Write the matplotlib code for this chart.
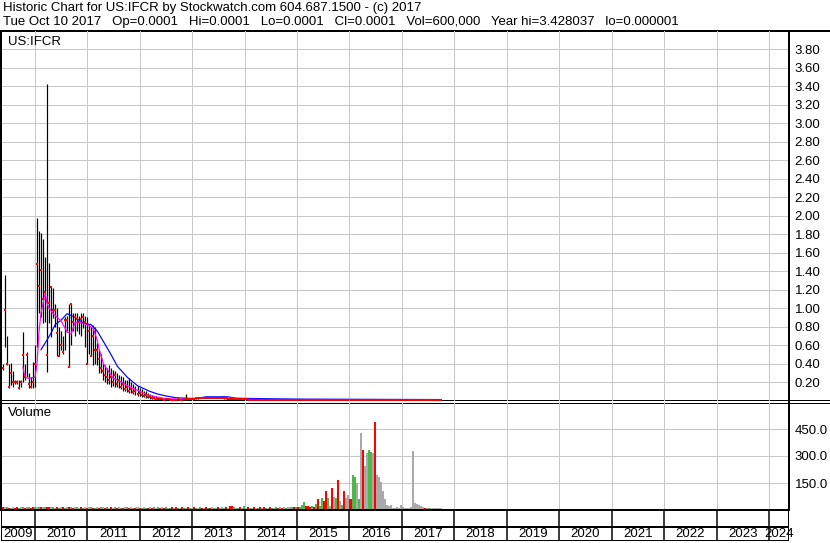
import matplotlib
matplotlib.use('Agg')
import matplotlib.pyplot as plt
import matplotlib.dates as mdates
from matplotlib.lines import Line2D
import pandas as pd

plt.rcParams['font.family'] = ['Liberation Sans', 'DejaVu Sans']
plt.rcParams['font.size'] = 9.5

# -----------------------------
# Data (one bar every two weeks)
# -----------------------------
first_bar = '2009-05-22'

high_head = [
    0.40, 1.36, 0.70, 0.40, 0.41, 0.32, 0.22, 0.22, 0.22, 0.22,
    0.74, 0.40, 0.52, 0.30, 0.25, 0.42, 0.60, 1.98, 1.84, 1.81,
    1.75, 1.55, 3.43, 1.49, 1.23, 1.22, 1.05, 1.00, 0.80, 0.75,
    0.70, 0.90, 0.92, 1.05, 1.04, 0.95, 0.95, 0.95, 0.92, 0.95,
    0.95, 0.92, 0.90, 0.82, 0.80, 0.82, 0.80, 0.62, 0.55, 0.50,
    0.40, 0.38, 0.35, 0.38, 0.35, 0.33, 0.32, 0.30, 0.28, 0.26,
    0.25, 0.22, 0.22, 0.24, 0.20, 0.18, 0.16, 0.16, 0.14, 0.12,
    0.10, 0.10, 0.08, 0.07, 0.06, 0.05, 0.05, 0.04, 0.03, 0.03,
    0.02, 0.02, 0.02, 0.015, 0.015, 0.015, 0.015, 0.02, 0.015, 0.015,
    0.02, 0.07, 0.025, 0.02, 0.025, 0.025, 0.03, 0.03, 0.035, 0.035,
    0.03, 0.035, 0.04, 0.035, 0.035, 0.03, 0.035, 0.035, 0.03, 0.05,
    0.03, 0.03, 0.025,
]
low_head = [
    0.33, 0.58, 0.38, 0.13, 0.17, 0.15, 0.18, 0.18, 0.12, 0.15,
    0.20, 0.22, 0.25, 0.14, 0.13, 0.14, 0.15, 0.58, 0.95, 0.90,
    0.84, 0.85, 0.31, 0.84, 0.69, 0.89, 0.80, 0.48, 0.48, 0.55,
    0.50, 0.55, 0.75, 0.36, 0.60, 0.75, 0.70, 0.75, 0.72, 0.70,
    0.78, 0.58, 0.40, 0.50, 0.48, 0.38, 0.40, 0.38, 0.30, 0.30,
    0.22, 0.20, 0.18, 0.18, 0.15, 0.16, 0.15, 0.15, 0.14, 0.12,
    0.10, 0.10, 0.09, 0.08, 0.08, 0.07, 0.06, 0.05, 0.05, 0.04,
    0.04, 0.03, 0.03, 0.02, 0.02, 0.02, 0.01, 0.01, 0.01, 0.01,
    0.005, 0.008, 0.008, 0.006, 0.006, 0.006, 0.006, 0.008, 0.006, 0.006,
    0.008, 0.015, 0.015, 0.012, 0.015, 0.015, 0.018, 0.02, 0.025, 0.025,
    0.022, 0.025, 0.028, 0.025, 0.025, 0.022, 0.025, 0.025, 0.022, 0.025,
    0.02, 0.02, 0.015,
]
close_head = [
    0.35, 0.98, 0.40, 0.15, 0.30, 0.20, 0.20, 0.20, 0.13, 0.20,
    0.49, 0.25, 0.49, 0.18, 0.15, 0.20, 0.40, 1.48, 1.24, 1.41,
    1.10, 1.17, 0.49, 1.06, 1.23, 0.98, 0.98, 0.73, 0.48, 0.60,
    0.52, 0.87, 0.87, 0.36, 1.04, 0.85, 0.90, 0.88, 0.85, 0.88,
    0.90, 0.85, 0.40, 0.75, 0.48, 0.70, 0.55, 0.55, 0.45, 0.35,
    0.32, 0.28, 0.25, 0.22, 0.25, 0.20, 0.28, 0.18, 0.22, 0.15,
    0.18, 0.12, 0.15, 0.10, 0.12, 0.09, 0.10, 0.07, 0.08, 0.06,
    0.05, 0.06, 0.04, 0.04, 0.03, 0.03, 0.02, 0.02, 0.02, 0.015,
    0.01, 0.012, 0.012, 0.010, 0.010, 0.010, 0.010, 0.012, 0.010, 0.010,
    0.012, 0.020, 0.020, 0.018, 0.020, 0.020, 0.022, 0.025, 0.030, 0.030,
    0.028, 0.030, 0.032, 0.030, 0.030, 0.028, 0.030, 0.030, 0.028, 0.030,
    0.025, 0.025, 0.020,
]
close_tail = [
    0.015, 0.015, 0.014, 0.015, 0.014, 0.013, 0.012, 0.012, 0.011, 0.010,
    0.010, 0.010, 0.009,
    0.008, 0.008, 0.008, 0.007, 0.007, 0.007, 0.007, 0.006, 0.006, 0.006,
    0.006, 0.006, 0.005, 0.005, 0.005, 0.005, 0.005, 0.005, 0.004, 0.004,
    0.004, 0.004, 0.004, 0.005, 0.004, 0.004, 0.004, 0.003, 0.003, 0.003,
    0.003, 0.003, 0.003, 0.003, 0.003, 0.002, 0.002, 0.002, 0.002, 0.002,
    0.002, 0.002, 0.002, 0.002, 0.002, 0.002, 0.002, 0.001, 0.001, 0.001,
    0.001, 0.001, 0.001, 0.001, 0.001, 0.001, 0.001, 0.001, 0.001, 0.001,
    0.001, 0.001, 0.001, 0.001, 0.001, 0.001, 0.001, 0.001, 0.001, 0.001,
    0.0005, 0.0005, 0.0005, 0.0005, 0.0005, 0.0005, 0.0005, 0.0005, 0.0005, 0.0005,
    0.0003, 0.0003, 0.0003, 0.0003, 0.0003, 0.0003, 0.0003, 0.0003, 0.0003, 0.0003,
    0.0001, 0.0001, 0.0001,
]

volume = [
    14, 16, 14, 12, 12, 14, 12, 16, 12, 14,
    14, 12, 14, 16, 12, 14, 14, 18, 16, 14,
    16, 14, 18, 14, 14, 16, 12, 14, 12, 14,
    14, 12, 16, 14, 14, 12, 14, 14, 12, 16,
    12, 14, 12, 14, 14, 12, 12, 14, 12, 14,
    14, 12, 14, 12, 14, 12, 14, 12, 14, 12,
    12, 14, 14, 12, 14, 12, 12, 14, 12, 12,
    14, 12, 12, 14, 12, 14, 12, 14, 12, 14,
    12, 14, 12, 12, 14, 12, 14, 12, 12, 14,
    12, 12, 14, 12, 12, 14, 12, 12, 14, 12,
    12, 14, 12, 12, 14, 12, 12, 14, 12, 14,
    12, 14, 12, 20, 22, 14, 12, 12, 14, 12,
    20, 12, 14, 12, 12, 14, 12, 12, 14, 12,
    14, 12, 12, 14, 12, 12, 14, 12, 14, 12,
    14, 12, 14, 14, 14, 16, 14, 16, 16, 28,
    46, 24, 24, 14, 24, 14, 36, 60, 24, 65,
    50, 108, 65, 24, 122, 73, 65, 167, 50, 28,
    108, 65, 84, 60, 197, 186, 148, 62, 430, 332,
    242, 318, 336, 323, 314, 487, 197, 182, 154, 108,
    60, 28, 24, 28, 12, 12, 14, 12, 28, 14,
    12, 12, 12, 14, 329, 40, 34, 28, 24, 14,
    12, 12, 12, 10, 12, 10, 12, 10, 12,
]
# g = up, r = down, k = unchanged
vol_dir = ''.join([
    'rkgrgkrrgk', 'grkgrrgkgr', 'kgrrkgkrgk', 'rgkrgrkgkr', 'gkrkgrgkrg',
    'krgkrkgrkg', 'rkgrkgrkrg', 'kgrkrgkgrk', 'rgkgrkrgkr', 'gkrgkrgkgr',
    'krgrkgkrgk', 'grkrrgkgrk', 'gkrgkrkgrk', 'rgkrgkgrkr', 'kgkkgrgrgg',
    'grrrgrgrgg', 'rrgkrkgrkg', 'rkkrggkgkr', 'kkggkrkkkk', 'kkkkkkkkkk',
    'kkkkkkkkkk', 'rkgkkkkkk',
])

# moving averages (bar index, value)
ma_fast_i = [10, 11, 13, 15, 16, 17, 18, 19, 20, 21, 22, 23, 25, 27, 29, 32, 34,
             36, 39, 42, 45, 47, 48, 50, 53, 55, 58, 62, 65, 68, 72, 76, 80, 86,
             91, 98, 112, 119, 129, 218]
ma_fast_v = [0.36, 0.25, 0.24, 0.25, 0.25, 0.40, 0.75, 0.95, 1.05, 1.16, 1.05, 1.00,
             0.94, 0.90, 0.86, 0.74, 0.72, 0.85, 0.84, 0.82, 0.78, 0.65, 0.55, 0.40,
             0.30, 0.24, 0.21, 0.16, 0.13, 0.10, 0.06, 0.04, 0.025, 0.015, 0.015,
             0.03, 0.03, 0.015, 0.01, 0.005]
ma_slow_i = [19, 21, 24, 26, 29, 32, 35, 40, 44, 47, 50, 54, 57, 62, 67, 73, 77,
             81, 86, 96, 101, 112, 116, 128, 148, 218]
ma_slow_v = [0.55, 0.62, 0.73, 0.82, 0.87, 0.94, 0.91, 0.84, 0.82, 0.75, 0.64, 0.49,
             0.37, 0.25, 0.16, 0.10, 0.07, 0.05, 0.03, 0.02, 0.04, 0.04, 0.025, 0.02,
             0.015, 0.01]

price_ticks = [0.20, 0.40, 0.60, 0.80, 1.00, 1.20, 1.40, 1.60, 1.80, 2.00,
               2.20, 2.40, 2.60, 2.80, 3.00, 3.20, 3.40, 3.60, 3.80]
vol_ticks = [150, 300, 450]
years = list(range(2009, 2025))

title_line1 = "Historic Chart for US:IFCR by Stockwatch.com 604.687.1500 - (c) 2017"
title_line2 = ("Tue Oct 10 2017   Op=0.0001   Hi=0.0001   Lo=0.0001   Cl=0.0001   "
               "Vol=600,000   Year hi=3.428037   lo=0.000001")

# -----------------------------
# Prepare
# -----------------------------
close = close_head + close_tail
n_head = len(high_head)
dates = pd.date_range(first_bar, periods=len(close), freq='14D')
xs = mdates.date2num(dates.to_pydatetime())
bounds = mdates.date2num([pd.Timestamp(f'{y}-01-01').to_pydatetime() for y in years[1:]])
x_left = mdates.date2num(pd.Timestamp('2009-05-09').to_pydatetime())
x_right = mdates.date2num(pd.Timestamp('2024-05-20').to_pydatetime())
vol_colors = {'g': '#4db848', 'r': '#ff0000', 'k': '#a9a9a9'}

W, H = 830, 543
PX = 0.72  # one pixel in points


def box(x0, y0, x1, y1):
    return [x0 / W, 1 - y1 / H, (x1 - x0) / W, (y1 - y0) / H]


def hline(y, x0=0, x1=W, lw=1):
    fig.add_artist(Line2D([x0 / W, x1 / W], [1 - y / H, 1 - y / H],
                          transform=fig.transFigure, color='black', lw=lw * PX,
                          zorder=-1))


fig = plt.figure(figsize=(W / 100, H / 100), dpi=100)
fig.patch.set_facecolor('white')

# -----------------------------
# Price panel
# -----------------------------
ax_p = fig.add_axes(box(1, 31, 789, 400.5))
ax_p.patch.set_alpha(0)
ax_p.set_xlim(x_left, x_right)
ax_p.set_ylim(0, 4.0)
ax_p.set_xticks(bounds)
ax_p.set_xticklabels([])
ax_p.set_yticks(price_ticks)
ax_p.set_yticklabels([f'{t:.2f}' for t in price_ticks])
ax_p.yaxis.tick_right()
ax_p.tick_params(length=0, pad=4)
ax_p.grid(True, color='#c8c8c8', lw=PX)
ax_p.set_axisbelow(True)
for s in ['top', 'bottom']:
    ax_p.spines[s].set_visible(False)
ax_p.spines['left'].set_linewidth(2 * PX)
ax_p.spines['right'].set_linewidth(2 * PX)

ax_p.vlines(xs[:n_head], low_head, high_head, color='black', lw=1.2 * PX, zorder=2)
ax_p.plot(xs[ma_slow_i], ma_slow_v, color='#0000ff', lw=1.2 * PX, zorder=3)
ax_p.plot(xs[ma_fast_i], ma_fast_v, color='#ff00ff', lw=1.2 * PX, zorder=3)
ax_p.plot(xs, close, ls='none', marker='s', ms=2.8 * PX, mew=0, color='red',
          zorder=4, clip_on=False)
fig.text(8 / W, 1 - 42 / H, 'US:IFCR', va='center', ha='left')

# -----------------------------
# Volume panel
# -----------------------------
ax_v = fig.add_axes(box(1, 402, 789, 510))
ax_v.patch.set_alpha(0)
ax_v.set_xlim(x_left, x_right)
ax_v.set_ylim(0, 600)
ax_v.set_xticks(bounds)
ax_v.set_xticklabels([])
ax_v.set_yticks(vol_ticks)
ax_v.set_yticklabels([f'{t:.1f}' for t in vol_ticks])
ax_v.yaxis.tick_right()
ax_v.tick_params(length=0, pad=4)
ax_v.grid(True, color='#c8c8c8', lw=PX)
ax_v.set_axisbelow(True)
ax_v.spines['top'].set_visible(False)
for s in ['left', 'right', 'bottom']:
    ax_v.spines[s].set_linewidth(2 * PX)
ax_v.bar(xs, volume, width=14, color=[vol_colors[c] for c in vol_dir], linewidth=0)
fig.text(8 / W, 1 - 413 / H, 'Volume', va='center', ha='left')

# -----------------------------
# Year strip
# -----------------------------
ax_y = fig.add_axes(box(1, 510, 789, 541))
ax_y.set_xlim(x_left, x_right)
ax_y.set_ylim(0, 1)
ax_y.axis('off')
ax_y.vlines(bounds, 0, 1, color='black', lw=1.5 * PX)
ax_y.vlines([x_left, x_right], 0, 1, color='black', lw=2 * PX)
ax_y.axhline(14 / 31, color='black', lw=2 * PX)
ax_y.axhline(0, color='black', lw=2 * PX)
edges = [x_left] + list(bounds) + [x_right]
for yr, a, b in zip(years, edges[:-1], edges[1:]):
    ax_y.text((a + b) / 2, 7 / 31, str(yr), ha='center', va='center', clip_on=False)

# -----------------------------
# Header and frame lines
# -----------------------------
fig.text(3 / W, 1 - 8.5 / H, title_line1, va='center', ha='left')
fig.text(3 / W, 1 - 22.5 / H, title_line2, va='center', ha='left')
hline(31, lw=2)
hline(400)
hline(402.5)

fig.savefig('out.png', dpi=100)
